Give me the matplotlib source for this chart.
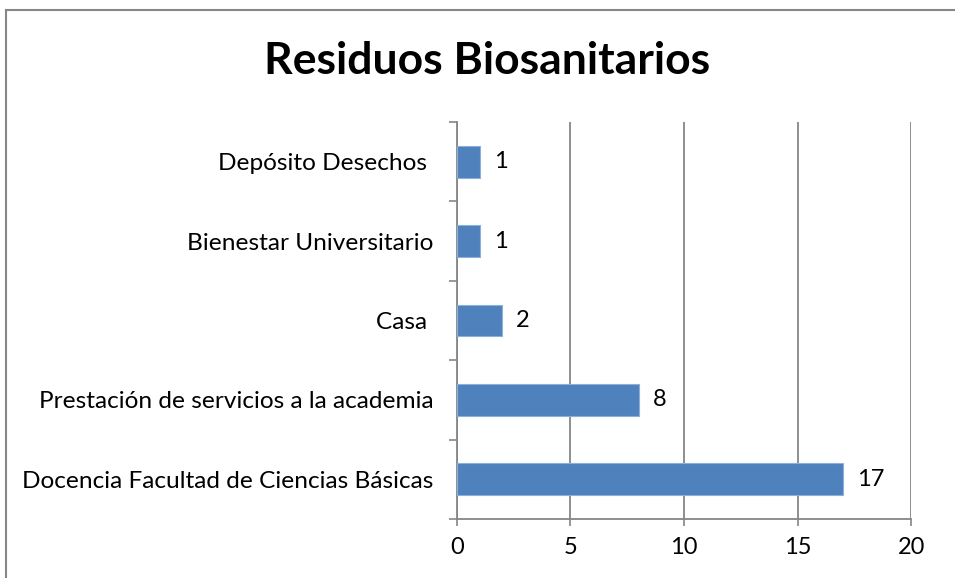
import matplotlib.pyplot as plt
from matplotlib.patches import Rectangle
import numpy as np

plt.rcParams['font.family'] = ['Lato', 'DejaVu Sans']

# data, bottom to top as drawn
categorias = ["Docencia Facultad de Ciencias Básicas",
              "Prestación de servicios a la academia",
              "Casa ",
              "Bienestar Universitario",
              "Depósito Desechos "]
valores = [17, 8, 2, 1, 1]
xticks = [0, 5, 10, 15, 20]

fig = plt.figure(figsize=(9.55, 5.78), dpi=100)
ax = fig.add_axes([0.4785, 0.102, 0.4755, 0.687])

y = np.arange(len(categorias))
ax.barh(y, valores, height=0.4, color='#4F81BD', edgecolor='#8DB0DA', linewidth=0.8, zorder=3)

for yi, v in zip(y, valores):
    ax.annotate(str(v), (v, yi), xytext=(10, 0), textcoords='offset points',
                va='center', ha='left', fontsize=17)

ax.set_xlim(0, 20)
ax.set_ylim(-0.5, len(categorias) - 0.5)
ax.set_xticks(xticks)
ax.set_xticklabels([str(t) for t in xticks], fontsize=17)
ax.set_yticks(y)
ax.set_yticklabels(categorias, fontsize=17.6)
ax.tick_params(axis='y', length=0, pad=17)
# tick marks between categories
ax.set_yticks(np.arange(-0.5, len(categorias), 1), minor=True)
ax.tick_params(axis='y', which='minor', length=6, width=1.2, color='#868686')
ax.tick_params(axis='x', length=5, width=1.2, color='#868686', pad=8)

ax.grid(axis='x', color='#868686', linewidth=1.3, zorder=0)
for s in ['top', 'right']:
    ax.spines[s].set_visible(False)
for s in ['left', 'bottom']:
    ax.spines[s].set_color('#868686')
    ax.spines[s].set_linewidth(1.3)

fig.text(0.51, 0.895, "Residuos Biosanitarios", ha='center', va='center',
         fontsize=32, fontweight='bold')

# chart border (right/bottom edges fall outside the picture)
fig.patches.append(Rectangle((5.5 / 955, -0.05), 1.1, 1.05 - 10 / 578,
                             transform=fig.transFigure, fill=False,
                             edgecolor='#868686', linewidth=1.5))

fig.savefig('out.png', dpi=100)
